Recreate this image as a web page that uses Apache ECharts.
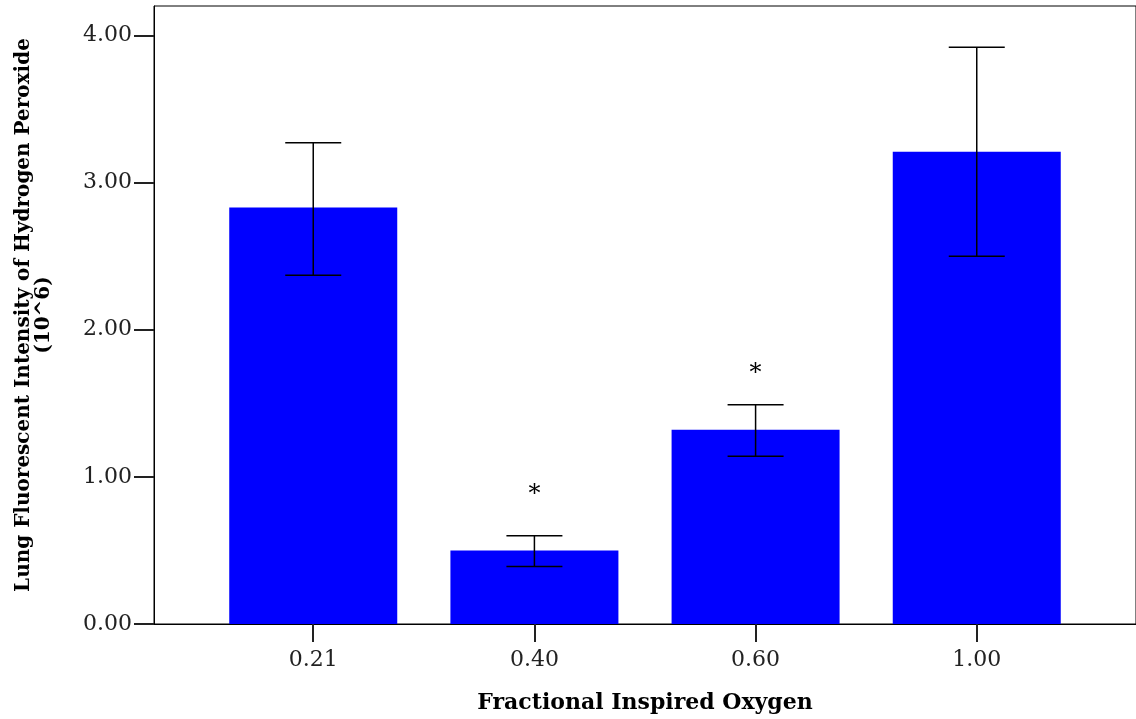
<!DOCTYPE html>
<html>
<head>
<meta charset="utf-8">
<script src="https://cdn.jsdelivr.net/npm/echarts@6/dist/echarts.min.js"></script>
<style>
html,body{margin:0;padding:0;background:#fff;}
#chart{width:1136px;height:719px;}
</style>
</head>
<body>
<div id="chart"></div>
<script>
var categories = ['0.21', '0.40', '0.60', '1.00'];
var means = [2.83, 0.50, 1.32, 3.21];
var errLow = [2.37, 0.39, 1.14, 2.50];
var errHigh = [3.27, 0.60, 1.49, 3.92];
var starY = [null, 0.88, 1.70, null];
var yTicks = [0, 1, 2, 3, 4];
var xTicks = [0, 1, 2, 3];

var chart = echarts.init(document.getElementById('chart'), null, {renderer: 'canvas'});

var barData = means.map(function (v, i) { return [i, v]; });
var errData = means.map(function (v, i) { return [i, errLow[i], errHigh[i]]; });
var starData = [];
starY.forEach(function (v, i) { if (v !== null) starData.push([i, v]); });

var serif = 'DejaVu Serif';

var option = {
  backgroundColor: '#fff',
  animation: false,
  grid: {
    left: 154, right: -6, top: 6, bottom: 95,
    show: true, borderColor: '#000', borderWidth: 1, backgroundColor: 'transparent'
  },
  xAxis: {
    type: 'value',
    min: -0.72, max: 3.72,
    name: 'Fractional Inspired Oxygen',
    nameLocation: 'middle',
    nameGap: 68,
    nameTextStyle: {fontFamily: serif, fontWeight: 'bold', fontSize: 22, color: '#000'},
    axisLine: {show: true, onZero: false, lineStyle: {color: '#000', width: 1}},
    axisTick: {show: true, length: 18, customValues: xTicks, lineStyle: {color: '#222', width: 2}},
    axisLabel: {
      customValues: xTicks, margin: 25,
      fontFamily: serif, fontSize: 22, color: '#222',
      formatter: function (v) { return categories[Math.round(v)]; }
    },
    splitLine: {show: false}
  },
  yAxis: {
    type: 'value',
    min: 0, max: 4.2,
    name: 'Lung Fluorescent Intensity of Hydrogen Peroxide\n(10^6)',
    nameLocation: 'middle',
    nameRotate: 90,
    nameGap: 100,
    nameTextStyle: {fontFamily: serif, fontWeight: 'bold', fontSize: 20, color: '#000', lineHeight: 20},
    axisLine: {show: true, onZero: false, lineStyle: {color: '#000', width: 1}},
    axisTick: {show: true, length: 20, customValues: yTicks, lineStyle: {color: '#222', width: 2}},
    axisLabel: {
      customValues: yTicks, margin: 22,
      fontFamily: serif, fontSize: 22, color: '#222',
      formatter: function (v) { return v.toFixed(2); }
    },
    splitLine: {show: false}
  },
  series: [
    {
      type: 'bar',
      data: barData,
      barWidth: 168,
      itemStyle: {color: '#0000ff'},
      z: 2
    },
    {
      type: 'custom',
      data: errData,
      z: 5,
      renderItem: function (params, api) {
        var x = api.value(0);
        var lo = api.coord([x, api.value(1)]);
        var hi = api.coord([x, api.value(2)]);
        var hw = 28;
        var style = {stroke: '#000', lineWidth: 1.5};
        return {
          type: 'group',
          children: [
            {type: 'line', shape: {x1: lo[0], y1: lo[1], x2: hi[0], y2: hi[1]}, style: style},
            {type: 'line', shape: {x1: hi[0] - hw, y1: hi[1], x2: hi[0] + hw, y2: hi[1]}, style: style},
            {type: 'line', shape: {x1: lo[0] - hw, y1: lo[1], x2: lo[0] + hw, y2: lo[1]}, style: style}
          ]
        };
      }
    },
    {
      type: 'custom',
      data: starData,
      z: 6,
      renderItem: function (params, api) {
        var p = api.coord([api.value(0), api.value(1)]);
        return {
          type: 'text',
          x: p[0], y: p[1],
          style: {text: '*', fontFamily: serif, fontSize: 24, fill: '#000', align: 'center', verticalAlign: 'middle'}
        };
      }
    }
  ]
};
chart.setOption(option);
</script>
</body>
</html>
